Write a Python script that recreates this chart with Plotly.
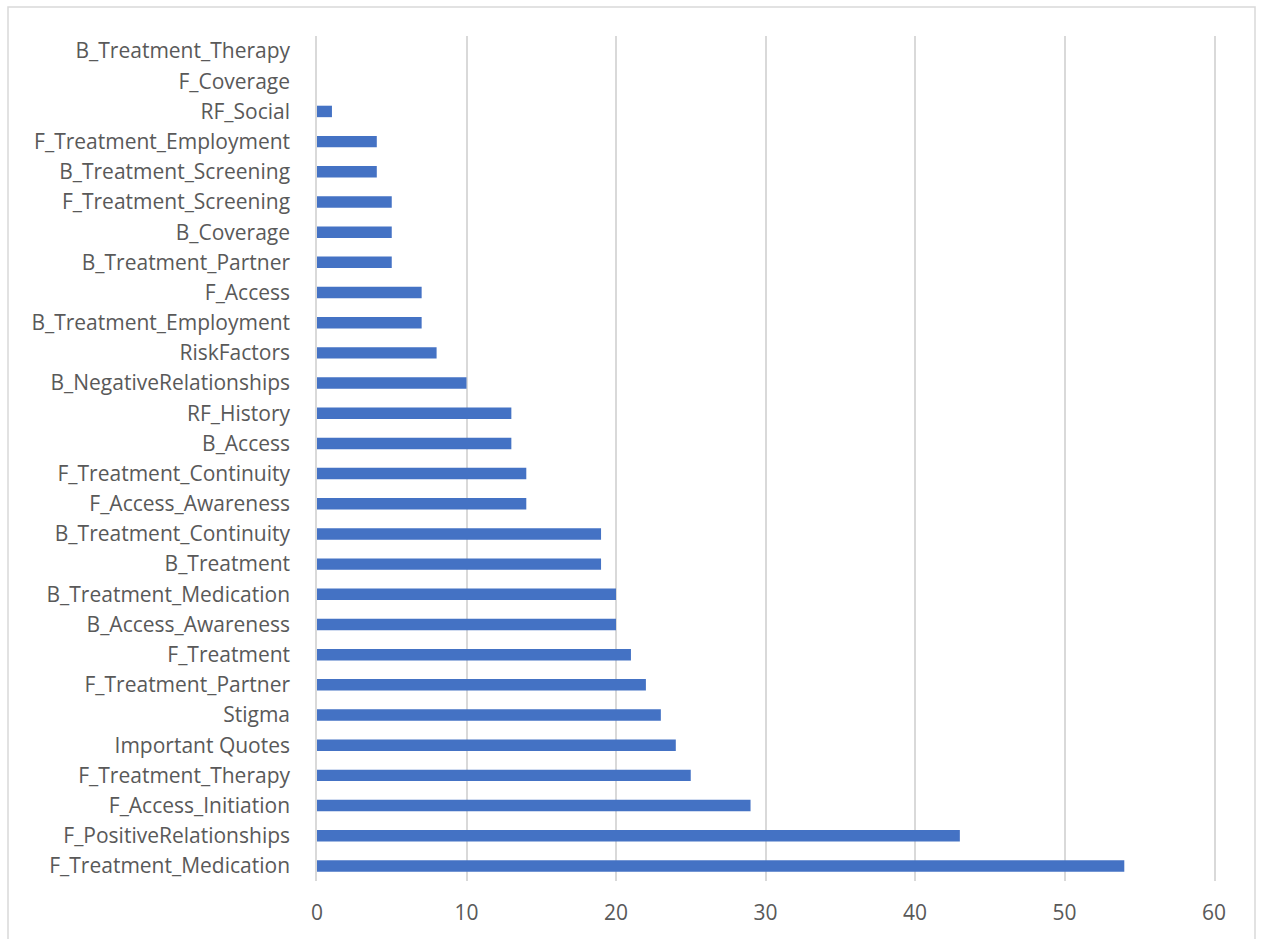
import plotly.graph_objects as go

# Code frequencies, listed bottom-to-top as they appear on the category axis
categories = [
    "F_Treatment_Medication", "F_PositiveRelationships", "F_Access_Initiation",
    "F_Treatment_Therapy", "Important Quotes", "Stigma", "F_Treatment_Partner",
    "F_Treatment", "B_Access_Awareness", "B_Treatment_Medication", "B_Treatment",
    "B_Treatment_Continuity", "F_Access_Awareness", "F_Treatment_Continuity",
    "B_Access", "RF_History", "B_NegativeRelationships", "RiskFactors",
    "B_Treatment_Employment", "F_Access", "B_Treatment_Partner", "B_Coverage",
    "F_Treatment_Screening", "B_Treatment_Screening", "F_Treatment_Employment",
    "RF_Social", "F_Coverage", "B_Treatment_Therapy",
]
counts = [54, 43, 29, 25, 24, 23, 22, 21, 20, 20, 19, 19, 14, 14, 13, 13,
          10, 8, 7, 7, 5, 5, 5, 4, 4, 1, 0, 0]
x_ticks = [0, 10, 20, 30, 40, 50, 60]

W, H = 1262, 939
L, R, T, B = 317, 48, 36, 58
pw, ph = W - L - R, H - T - B

def px_x(p):
    return (p - L) / pw

def px_y(p):
    return (H - B - p) / ph

fig = go.Figure(go.Bar(
    x=counts, y=categories, orientation="h",
    marker=dict(color="#4472C4", line=dict(width=0)),
    width=0.38,
))

font = dict(family="Open Sans, Calibri, Carlito, sans-serif", size=21, color="#595959")

fig.update_layout(
    width=W, height=H,
    margin=dict(l=L, r=R, t=T, b=B, pad=0),
    paper_bgcolor="white", plot_bgcolor="white",
    showlegend=False,
    font=font,
    xaxis=dict(
        range=[0, 60], tickvals=x_ticks, showgrid=True, gridcolor="#D9D9D9",
        gridwidth=1.5, zeroline=False, showline=False, ticks="",
        tickfont=font, ticklabelstandoff=17,
    ),
    yaxis=dict(
        categoryorder="array", categoryarray=categories,
        range=[-0.5, len(categories) - 0.5],
        showgrid=False, zeroline=False, ticks="",
        # vertical lines at 0 and 60 act as the outer gridlines
        showline=True, mirror=True, linecolor="#D9D9D9", linewidth=1.5,
        tickfont=font, ticklabelstandoff=21,
    ),
    shapes=[dict(
        type="rect", xref="paper", yref="paper",
        x0=px_x(8), x1=px_x(1255), y0=px_y(960), y1=px_y(7),
        line=dict(color="#D9D9D9", width=1.5), fillcolor="rgba(0,0,0,0)",
        layer="below",
    )],
)

fig.write_html("out.html")
